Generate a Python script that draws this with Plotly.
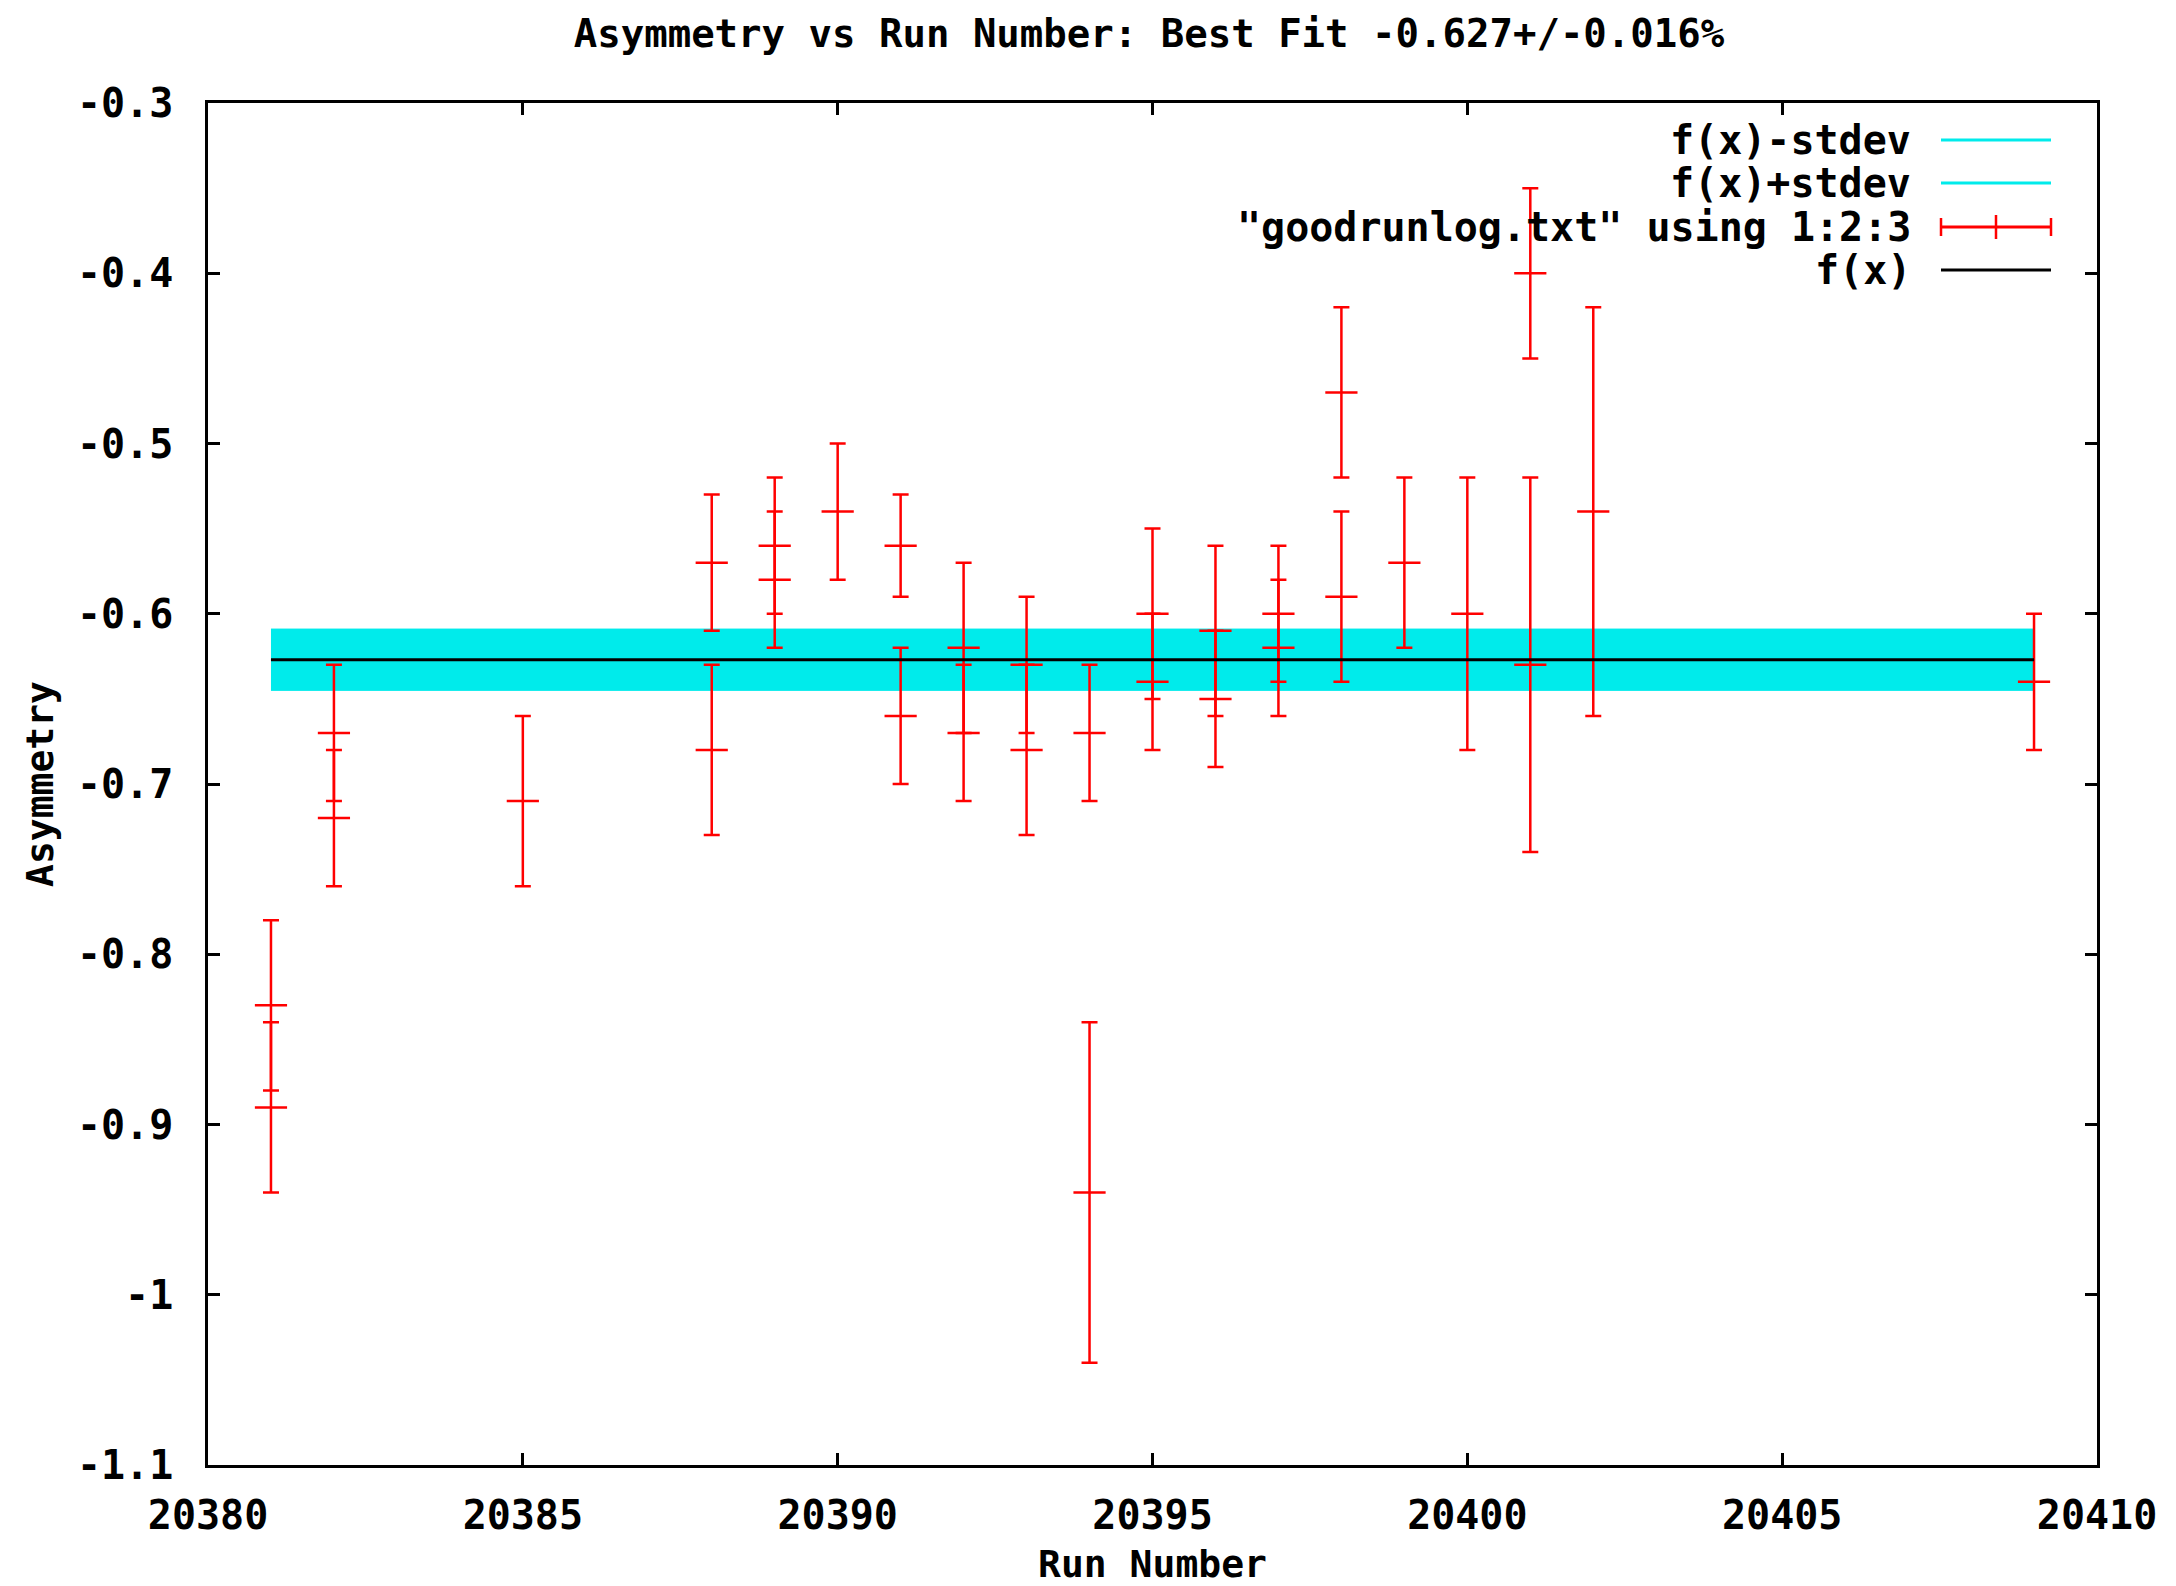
import plotly.graph_objects as go

# ---- data ----
run = [20381, 20381, 20382, 20382, 20385, 20388, 20388, 20389, 20389, 20390,
       20391, 20391, 20392, 20392, 20393, 20393, 20394, 20394, 20395, 20395,
       20396, 20396, 20397, 20397, 20398, 20398, 20399, 20400, 20401, 20401,
       20402, 20409]
asym = [-0.83, -0.89, -0.67, -0.72, -0.71, -0.57, -0.68, -0.56, -0.58, -0.54,
        -0.56, -0.66, -0.62, -0.67, -0.63, -0.68, -0.67, -0.94, -0.60, -0.64,
        -0.61, -0.65, -0.60, -0.62, -0.47, -0.59, -0.57, -0.60, -0.40, -0.63,
        -0.54, -0.64]
err = [0.05, 0.05, 0.04, 0.04, 0.05, 0.04, 0.05, 0.04, 0.04, 0.04,
       0.03, 0.04, 0.05, 0.04, 0.04, 0.05, 0.04, 0.10, 0.05, 0.04,
       0.05, 0.04, 0.04, 0.04, 0.05, 0.05, 0.05, 0.08, 0.05, 0.11,
       0.12, 0.04]
fit_value = -0.627
fit_stdev = 0.018

x_tickvals = [20380, 20385, 20390, 20395, 20400, 20405, 20410]
x_ticktext = ["20380", "20385", "20390", "20395", "20400", "20405", "20410"]
y_tickvals = [-1.1, -1.0, -0.9, -0.8, -0.7, -0.6, -0.5, -0.4, -0.3]
y_ticktext = ["-1.1", "-1", "-0.9", "-0.8", "-0.7", "-0.6", "-0.5", "-0.4", "-0.3"]

legend_labels = ["f(x)-stdev", "f(x)+stdev", "\"goodrunlog.txt\" using 1:2:3", "f(x)"]

FONT = "DejaVu Sans Mono"
FS = 40
RED = "#ff0000"
CYAN = "#00ebeb"

x_fit = [min(run), max(run)]

fig = go.Figure()
fig.add_trace(go.Scatter(x=x_fit, y=[fit_value - fit_stdev] * 2, mode="lines",
                         line=dict(color=CYAN, width=1), showlegend=False))
fig.add_trace(go.Scatter(x=x_fit, y=[fit_value + fit_stdev] * 2, mode="lines",
                         line=dict(color=CYAN, width=1), fill="tonexty",
                         fillcolor=CYAN, showlegend=False))
fig.add_trace(go.Scatter(x=run, y=asym, mode="markers",
                         marker=dict(symbol="line-ew", size=23,
                                     line=dict(color=RED, width=2.5), color=RED),
                         error_y=dict(type="data", array=err, visible=True,
                                      color=RED, thickness=2.5, width=8),
                         showlegend=False))
fig.add_trace(go.Scatter(x=x_fit, y=[fit_value] * 2, mode="lines",
                         line=dict(color="black", width=3), showlegend=False))

# ---- gnuplot-style key (text on the left, sample on the right) ----
L, R, T, B = 200, 2089, 95, 1457
W, H = R - L, B - T
rows_px = [132, 175, 219, 262]
text_right = (1905 - L) / W
s0, s1 = (1933 - L) / W, (2043 - L) / W
colors = [CYAN, CYAN, RED, "black"]
annotations = []
shapes = []
for lab, ypx, col in zip(legend_labels, rows_px, colors):
    yp = (B - ypx) / H
    annotations.append(dict(text=lab, x=text_right, y=yp, xref="paper", yref="paper",
                            xanchor="right", yanchor="middle", showarrow=False,
                            font=dict(family=FONT, size=FS, color="black", weight="bold")))
    shapes.append(dict(type="line", xref="paper", yref="paper", x0=s0, x1=s1, y0=yp, y1=yp,
                       line=dict(color=col, width=3)))
    if col == RED:
        hc = 9 / H
        hm = 12 / H
        for xx, hh in ((s0, hc), (s1, hc), ((s0 + s1) / 2, hm)):
            shapes.append(dict(type="line", xref="paper", yref="paper", x0=xx, x1=xx,
                               y0=yp - hh, y1=yp + hh, line=dict(color=RED, width=2.5)))

axis_common = dict(showline=True, mirror="ticks", linecolor="black", linewidth=2.5,
                   ticks="inside", ticklen=12, tickwidth=2.5, tickcolor="black",
                   showgrid=False, zeroline=False, automargin=False,
                   tickfont=dict(family=FONT, size=FS, color="black", weight="bold"))

fig.update_layout(
    width=2176, height=1586, autosize=False,
    paper_bgcolor="white", plot_bgcolor="white",
    margin=dict(l=L, r=2176 - R, t=T, b=1586 - B),
    title=dict(text="Asymmetry vs Run Number: Best Fit -0.627+/-0.016%",
               x=1141 / 2176, xanchor="center", y=1 - 25 / 1586, yanchor="middle",
               yref="container", automargin=False,
               font=dict(family=FONT, size=39, color="black", weight="bold")),
    xaxis=dict(range=[20380, 20410], tickvals=x_tickvals, ticktext=x_ticktext,
               ticklabelstandoff=13,
               title=dict(text="Run Number", standoff=14,
                          font=dict(family=FONT, size=38, color="black", weight="bold")),
               **axis_common),
    yaxis=dict(range=[-1.1, -0.3], tickvals=y_tickvals, ticktext=y_ticktext,
               ticklabelstandoff=24,
               title=dict(text="Asymmetry", standoff=12,
                          font=dict(family=FONT, size=38, color="black", weight="bold")),
               **axis_common),
    annotations=annotations,
    shapes=shapes,
    showlegend=False,
)

fig.write_html("out.html")
